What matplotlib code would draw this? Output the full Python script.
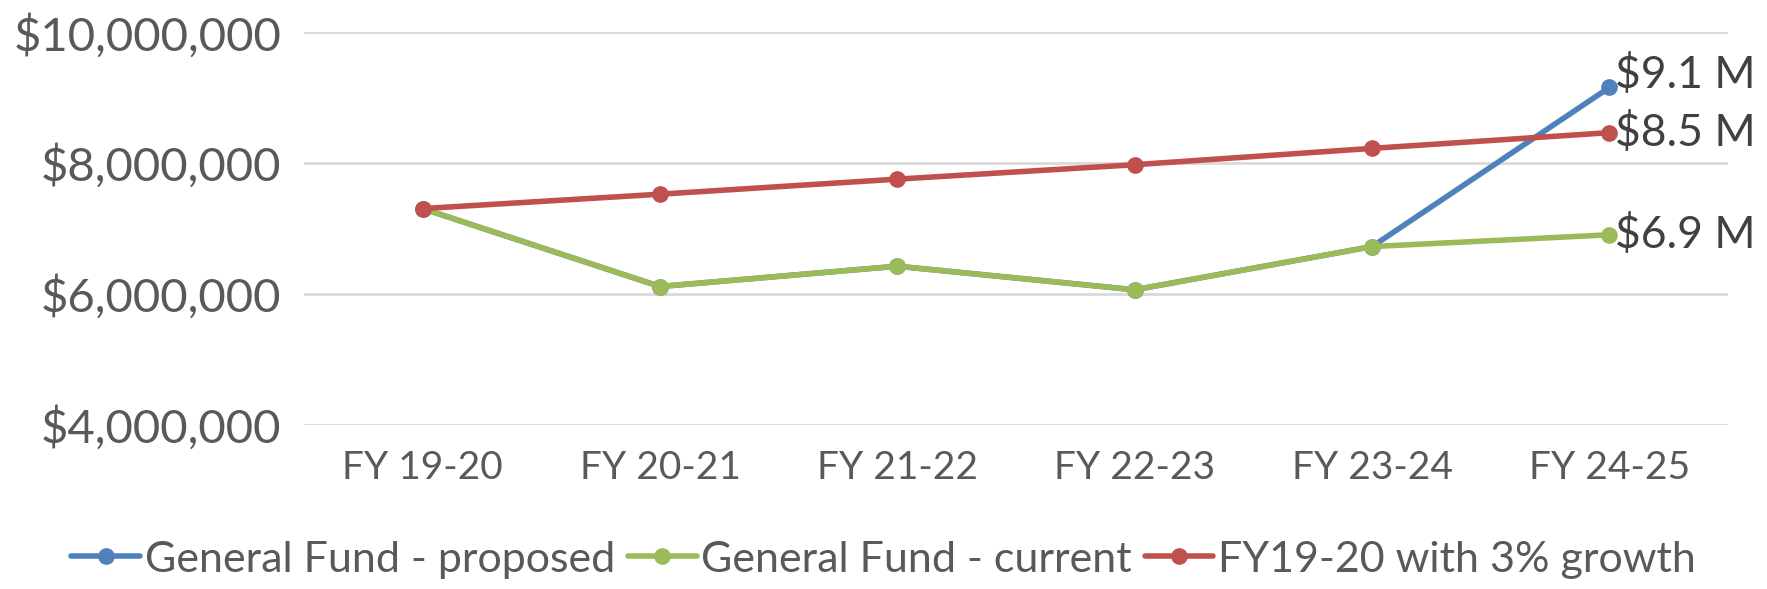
import matplotlib.pyplot as plt
from matplotlib.ticker import FuncFormatter

# data
years = ['FY 19-20', 'FY 20-21', 'FY 21-22', 'FY 22-23', 'FY 23-24', 'FY 24-25']
proposed = [7.30e6, 6.11e6, 6.42e6, 6.06e6, 6.72e6, 9.15e6]
current = [7.30e6, 6.11e6, 6.42e6, 6.06e6, 6.72e6, 6.90e6]
growth = [7.30e6, 7.52e6, 7.75e6, 7.97e6, 8.22e6, 8.46e6]
end_labels = ['$9.1 M', '$6.9 M', '$8.5 M']

plt.rcParams['font.family'] = ['Lato', 'DejaVu Sans']

blue, green, red = '#4F81BD', '#9BBB59', '#C0504D'

fig = plt.figure(figsize=(17.67, 5.89), dpi=100)
ax = fig.add_axes([0.172, 0.279, 0.806, 0.667])

x = list(range(len(years)))
series = [('General Fund - proposed', proposed, blue),
          ('General Fund - current', current, green),
          ('FY19-20 with 3% growth', growth, red)]
for name, vals, col in series:
    ax.plot(x, vals, color=col, lw=4, marker='o', ms=11, label=name,
            solid_capstyle='round')

# labels at the last point
offsets = [9, 0, 0]
for (name, vals, col), lab, dy in zip(series, end_labels, offsets):
    ax.annotate(lab, (x[-1], vals[-1]), xytext=(4, dy), textcoords='offset points',
                ha='left', va='center', fontsize=32, color='#404040')

ax.set_xlim(-0.5, len(years) - 0.5)
ax.set_ylim(4e6, 10e6)
ax.set_yticks([4e6, 6e6, 8e6, 10e6])
ax.yaxis.set_major_formatter(FuncFormatter(lambda v, p: '${:,.0f}'.format(v)))
ax.set_xticks(x)
ax.set_xticklabels(years)
ax.tick_params(axis='both', length=0, labelcolor='#595959')
ax.tick_params(axis='y', pad=16, labelsize=34)
ax.tick_params(axis='x', pad=18, labelsize=28)
ax.grid(axis='y', color='#D9D9D9', lw=2)
ax.set_axisbelow(True)
for s in ax.spines.values():
    s.set_visible(False)

leg = fig.legend(loc='center', bbox_to_anchor=(0.5, 0.05), ncol=3, frameon=False,
                 fontsize=31, handlelength=1.6, handletextpad=0.1, columnspacing=0.3,
                 labelcolor='#595959')

fig.savefig('out.png', dpi=100)
